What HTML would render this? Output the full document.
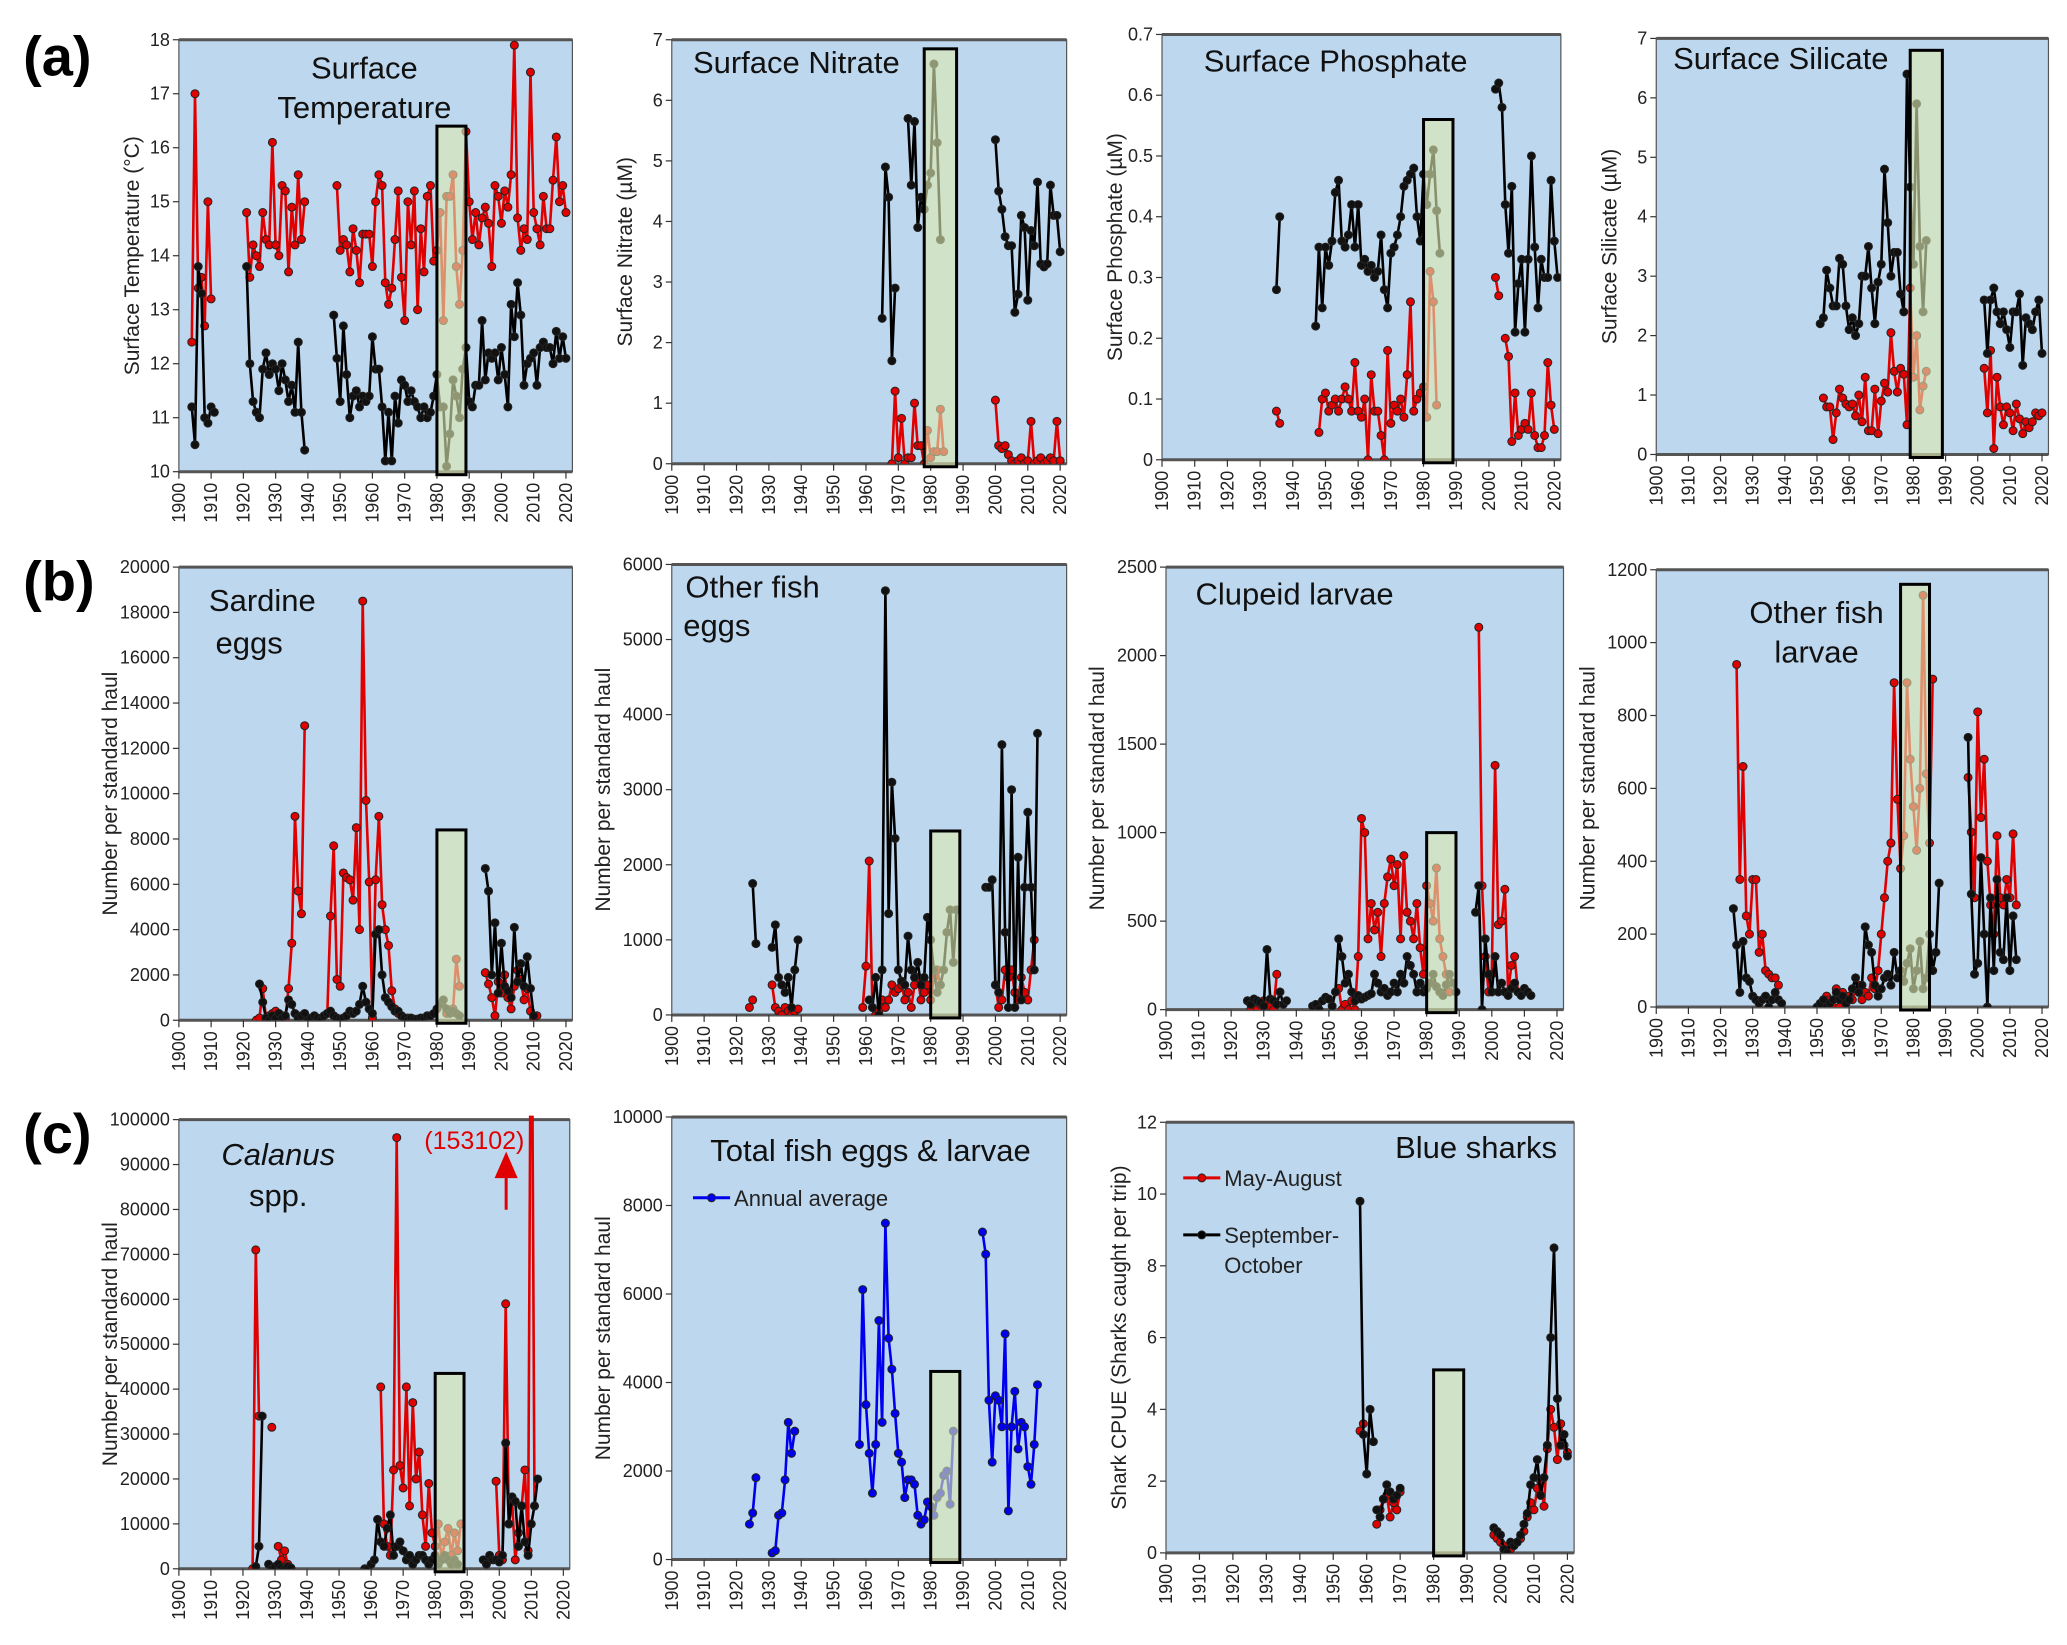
<!DOCTYPE html>
<html><head><meta charset="utf-8"><style>
html,body{margin:0;padding:0;background:#fff}
svg{display:block}
text{font-family:"Liberation Sans",sans-serif}
</style></head><body>
<svg id="fig" width="2067" height="1645" viewBox="0 0 2067 1645" xmlns="http://www.w3.org/2000/svg"></svg>
<script>
// ===== data: each series is a list of segments [startYear, values] =====
const tempRed=[[1904,[12.4,17,13.4,13.6,12.7,15,13.2]],[1921,[14.8,13.6,14.2,14,13.8,14.8,14.3,14.2,16.1,14.2,14,15.3,15.2,13.7,14.9,14.2,15.5,14.3,15]],[1949,[15.3,14.1,14.3,14.2,13.7,14.5,14.1,13.5,14.4,14.4,14.4,13.8,15,15.5,15.3,13.5,13.1,13.4,14.3,15.2,13.6,12.8,15,14.2,15.2,13,14.5,13.7,15.1,15.3,13.9,14.1,14.8,12.8,15.1,15.1,15.5,13.8,13.1,14.1,16.3,15,14.3,14.8,14.2,14.7,14.9,14.6,13.8,15.3,15.1,14.6,15.2,14.9,15.5,17.9,14.7,14.1,14.5,14.3,17.4,14.8,14.5,14.2,15.1,14.5,14.5,15.4,16.2,15,15.3,14.8]]];
const tempBlack=[[1904,[11.2,10.5,13.8,13.3,11,10.9,11.2,11.1]],[1921,[13.8,12,11.3,11.1,11,11.9,12.2,11.8,12,11.9,11.5,12,11.7,11.3,11.6,11.1,12.4,11.1,10.4]],[1948,[12.9,12.1,11.3,12.7,11.8,11,11.4,11.5,11.2,11.4,11.3,11.4,12.5,11.9,11.9,11.2,10.2,11.1,10.2,11.4,10.9,11.7,11.6,11.3,11.5,11.3,11.2,11,11.2,11,11.1,11.4,11.8,11.2,11.2,10.1,10.7,11.7,11.4,11,11.9,12.3,11.3,11.2,11.6,11.6,12.8,11.7,12.2,12.1,12.2,11.7,12.3,11.8,11.2,13.1,12.5,13.5,12.9,11.6,12,12.1,12.2,11.6,12.3,12.4,12.3,12.3,12,12.6,12.1,12.5,12.1]]];
const nitBlack=[[1965,[2.4,4.9,4.4,1.7,2.9]],[1973,[5.7,4.6,5.65,3.9,4.4,4.2,4.6,4.8,6.6,5.3,3.7]],[2000,[5.35,4.5,4.2,3.75,3.6,3.6,2.5,2.8,4.1,3.9,2.7,3.85,3.6,4.65,3.3,3.25,3.3,4.6,4.1,4.1,3.5]]];
const nitRed=[[1968,[0,1.2,0.1,0.75,0,0.1,0.1,1.0,0.3,0.3,0,0.55,0.1,0.2,0.2,0.9,0.2]],[2000,[1.05,0.3,0.25,0.3,0.15,0.05,0,0.05,0.1,0,0.05,0.7,0,0.05,0.1,0,0.05,0.1,0.05,0.7,0.05]]];
const phoBlack=[[1935,[0.28,0.4]],[1947,[0.22,0.35,0.25,0.35,0.32,0.36,0.44,0.46,0.36,0.35,0.37,0.42,0.35,0.42,0.32,0.33,0.31,0.32,0.30,0.31,0.37,0.28,0.25,0.34,0.35,0.37,0.40,0.45,0.46,0.47,0.48,0.40,0.36,0.47,0.42,0.47,0.51,0.41,0.34]],[2002,[0.61,0.62,0.58,0.42,0.34,0.45,0.21,0.29,0.33,0.21,0.33,0.5,0.35,0.25,0.33,0.3,0.3,0.46,0.36,0.3]]];
const phoRed=[[1935,[0.08,0.06]],[1948,[0.045,0.1,0.11,0.08,0.09,0.1,0.08,0.1,0.12,0.1,0.08,0.16,0.08,0.07,0.1,0,0.14,0.08,0.08,0.04,0,0.18,0.06,0.09,0.08,0.1,0.07,0.14,0.26,0.08,0.1,0.11,0.12,0.07,0.31,0.26,0.09]],[2002,[0.3,0.27]],[2005,[0.2,0.17,0.03,0.11,0.04,0.05,0.06,0.05,0.11,0.04,0.02,0.02,0.04,0.16,0.09,0.05]]];
const silBlack=[[1951,[2.2,2.3,3.1,2.8,2.5,2.5,3.3,3.2,2.5,2.1,2.3,2.0,2.2,3.0,3.0,3.5,2.8,2.2,2.9,3.2,4.8,3.9,3.0,3.4,3.4,2.7,2.4,6.4,4.5,3.2,5.9,3.5,2.4,3.6]],[2002,[2.6,1.7,2.6,2.8,2.4,2.2,2.4,2.1,1.8,2.4,2.4,2.7,1.5,2.3,2.2,2.1,2.4,2.6,1.7]]];
const silRed=[[1952,[0.95,0.8,0.8,0.25,0.7,1.1,0.95,0.85,0.8,0.85,0.65,1.0,0.55,1.3,0.4,0.4,1.1,0.35,0.9,1.2,1.05,2.05,1.4,1.05,1.45,1.35,0.5,2.8,1.3,2.0,0.75,1.15,1.4]],[2002,[1.45,0.7,1.75,0.1,1.3,0.8,0.5,0.8,0.7,0.4,0.85,0.6,0.35,0.55,0.45,0.55,0.7,0.65,0.7]]];
const sarRed=[[1924,[0,100,1400,100,200,300,400,300,200,100,1400,3400,9000,5700,4700,13000]],[1946,[300,4600,7700,1800,1500,6500,6300,6200,5300,8500,4000,18500,9700,6100,100,6200,9000,5100,4000,3300,1300,500,300,200,100,100]],[1983,[300,400,500,2700,1500]],[1995,[2100,1600,1000,200,1700,1200,2000,1000,500,1500,2200,1800,900,1400,400,100,200]]];
const sarBlack=[[1925,[1600,800,100,0,200,100,300,100,200,900,700,300,100,200,300,0,100,200,100,0,200,300,400,200,100,50,100,200,400,300,400,700,1500,800,500,300,3800,4000,2000,1000,800,600,400,400,200,100,0,100,50,50,100,100,200,200,300,500,700,900,500,300,400,300,200]],[1995,[6700,5700,2000,4300,1200,3400,1500,1300,1000,4100,1700,2500,1500,2800,1400,200]]];
const ofeBlack=[[1925,[1750,950]],[1931,[900,1200,500,400,300,500,100,600,1000]],[1961,[200,100,500,0,600,5650,1350,3100,2350,600,450,400,1050,600,500,700,400,500,1300,1000,600,300,400,600,1100,1400,700,1400]],[1997,[1700,1700,1800,400,300,3600,1100,100,3000,100,2100,200,1700,2700,1700,600,3750]]];
const ofeRed=[[1924,[100,200]],[1931,[400,100,50,0,100,50,0,50,80]],[1959,[100,650,2050,100,0,50,200,100,200,400,300,350,400,200,300,100,400,500,200,300,400,200,500,600,400]],[2000,[400,100,200,600,500,600,300,200,500,300,200,600,1000]]];
const cluBlack=[[1925,[50,30,60,50,40,20,340,60,50,30,100,30,50]],[1945,[20,30,0,50,70,60,20,100,400,300,150,200,100,50,80,60,70,80,90,200,150,100,120,80,100,150,100,200,150,300,250,200,100,150,100,120,150,200,130,100,80,140,200,150,100]],[1995,[550,700,0,400,200,100,300,100,150,100,80,120,150,100,80,120,100,80]]];
const cluRed=[[1925,[50,0,30,0,30,50,40,20,0,200]],[1953,[120,0,30,0,50,0,300,1080,1000,400,600,450,550,300,600,750,850,700,820,400,870,550,500,400,600,350,200,700,600,500,800,400,300,200,100]],[1996,[2160,700,300,100,200,1380,480,500,680,100,250,300,100]]];
const oflRed=[[1925,[940,350,660,250,200,350,350,150,200,100,90,80,80,60]],[1953,[30,20,0,50,0,40,10,30,20,50,60,20,40,30,80,50,100,200,300,400,450,890,570,380,470,890,680,550,430,600,1130,640,450,900]],[1997,[630,480,300,810,520,680,400,280,200,470,300,280,350,300,475,280]]];
const oflBlack=[[1924,[270,170,40,180,80,70,30,20,10,20,30,0,20,40,20,10]],[1950,[0,10,20,0,10,20,40,20,30,10,20,50,80,40,60,220,170,150,60,30,50,80,90,60,150,80,100,70,120,160,50,100,180,50,80,200,100,150,340]],[1997,[740,310,90,120,410,200,0,300,100,350,150,130,300,100,250,130]]];
const calRed=[[1923,[0,71000,34000]],[1929,[31500]],[1931,[5000,2000,4000,1000,0]],[1963,[40500,10000,5000,3000,22000,96000,23000,18000,40500,14000,37000,20000,26000,12000,5000,19000,8000,5000,10000,2000,6000,9000,3000,8000,4000,10000]],[1999,[19500,3000,2000,59000,10000,15000,2000,8000,14000,22000,4000,153102,14000]]];
const calBlack=[[1924,[500,5000,34000]],[1928,[1000,0,500,1000,200,0,500,200]],[1958,[0,0,1000,2000,11000,6000,5000,9000,12000,3000,5000,6000,4000,2000,3000,1000,2000,3000,3000,2000,1000,2000,3000,1000,2000,3000,2000,1000,2000,1000]],[1995,[2000,1000,3000,2000,2000,1500,3000,28000,10000,16000,15000,5000,14000,6000,3000,10000,14000,20000]]];
const totBlue=[[1924,[800,1050,1850]],[1931,[150,200,1000,1050,1800,3100,2400,2900]],[1958,[2600,6100,3500,2400,1500,2600,5400,3100,7600,5000,4300,3300,2400,2200,1400,1800,1800,1700,1000,800,900,1300,1200,1000,1400,1500,1900,2000,1250,2900]],[1996,[7400,6900,3600,2200,3700,3600,3000,5100,1100,3000,3800,2500,3100,3000,2100,1700,2600,3950]]];
const shkBlack=[[1958,[9.8,3.3,2.2,4.0,3.1]],[1963,[1.2,1.0,1.5,1.9,1.7,1.5,1.6,1.8]],[1998,[0.7,0.6,0.5,0.1,0,0.3,0.2,0.3,0.5,0.8,1.1,1.9,2.1,2.6,1.6,2.1,3,6,8.5,4.3,3.0,3.3,2.7]]];
const shkRed=[[1958,[3.4,3.6]],[1963,[0.8,1.2,1.5,1.6,1.0,1.4,1.2,1.7]],[1998,[0.5,0.4,0.3,0.2,0,0.1,0.2,0.3,0.4,0.6,1.0,1.4,1.2,1.8,2.0,1.3,2.9,4.0,3.5,2.6,3.6,3.0,2.8]]];
const xTickYears=[1900,1910,1920,1930,1940,1950,1960,1970,1980,1990,2000,2010,2020];

// ===== layout =====
const S=1.325;
const svg=document.getElementById('fig');
const NS='http://www.w3.org/2000/svg';
function mk(tag,attrs,parent){const e=document.createElementNS(NS,tag);for(const k in attrs)e.setAttribute(k,attrs[k]);(parent||svg).appendChild(e);return e;}

const panels=[
 {id:'temperature',box:[135,30,432,356],ymin:10,ymax:18,yticks:[10,11,12,13,14,15,16,17,18],ytitle:'Surface Temperature (\u00B0C)',title:['Surface','Temperature'],tx:[275,275],ty:[50,80],series:[[tempRed,'#e00000'],[tempBlack,'#000']],green:[1980,1989,16.4]},
 {id:'nitrate',box:[507,30,805,350],ymin:0,ymax:7,yticks:[0,1,2,3,4,5,6,7],ytitle:'Surface Nitrate (\u00B5M)',title:['Surface Nitrate'],tx:[601],ty:[46],series:[[nitRed,'#e00000'],[nitBlack,'#000']],green:[1978,1988,6.85]},
 {id:'phosphate',box:[877,26,1178,347],ymin:0,ymax:0.7,yticks:[0,0.1,0.2,0.3,0.4,0.5,0.6,0.7],ytitle:'Surface Phosphate  (\u00B5M)',title:['Surface Phosphate'],tx:[1008],ty:[45],series:[[phoRed,'#e00000'],[phoBlack,'#000']],green:[1980,1989,0.56]},
 {id:'silicate',box:[1250,29,1546,343],ymin:0,ymax:7,yticks:[0,1,2,3,4,5,6,7],ytitle:'Surface Silicate (\u00B5M)',title:['Surface Silicate'],tx:[1344],ty:[43],series:[[silRed,'#e00000'],[silBlack,'#000']],green:[1979,1989,6.8]},
 {id:'sardine-eggs',box:[135,428,432,770],ymin:0,ymax:20000,yticks:[0,2000,4000,6000,8000,10000,12000,14000,16000,18000,20000],ytitle:'Number per standard haul',title:['Sardine','eggs'],tx:[198,188],ty:[452,484],series:[[sarRed,'#e00000'],[sarBlack,'#000']],green:[1980,1989,8400]},
 {id:'other-fish-eggs',box:[507,426,805,766],ymin:0,ymax:6000,yticks:[0,1000,2000,3000,4000,5000,6000],ytitle:'Number per standard haul',title:['Other fish','eggs'],tx:[568,541],ty:[442,471],series:[[ofeRed,'#e00000'],[ofeBlack,'#000']],green:[1980,1989,2450]},
 {id:'clupeid-larvae',box:[880,428,1180,762],ymin:0,ymax:2500,yticks:[0,500,1000,1500,2000,2500],ytitle:'Number per standard haul',title:['Clupeid larvae'],tx:[977],ty:[447],series:[[cluRed,'#e00000'],[cluBlack,'#000']],green:[1980,1989,1000]},
 {id:'other-fish-larvae',box:[1250,430,1546,760],ymin:0,ymax:1200,yticks:[0,200,400,600,800,1000,1200],ytitle:'Number per standard haul',title:['Other fish','larvae'],tx:[1371,1371],ty:[461,491],series:[[oflRed,'#e00000'],[oflBlack,'#000']],green:[1976,1985,1160]},
 {id:'calanus',box:[135,845,430,1184],ymin:0,ymax:100000,yticks:[0,10000,20000,30000,40000,50000,60000,70000,80000,90000,100000],ytitle:'Number per standard haul',title:['Calanus','spp.'],italic:true,tx:[210,210],ty:[870,901],series:[[calRed,'#e00000'],[calBlack,'#000']],green:[1980,1989,43500]},
 {id:'total-eggs-larvae',box:[507,843,805,1177],ymin:0,ymax:10000,yticks:[0,2000,4000,6000,8000,10000],ytitle:'Number per standard haul',title:['Total fish eggs & larvae'],tx:[657],ty:[867],series:[[totBlue,'#0000ee']],green:[1980,1989,4250]},
 {id:'blue-sharks',box:[880,847,1188,1172],ymin:0,ymax:12,yticks:[0,2,4,6,8,10,12],ytitle:'Shark CPUE (Sharks caught per trip)',title:['Blue sharks'],tx:[1114],ty:[865],series:[[shkRed,'#e00000'],[shkBlack,'#000']],green:[1980,1989,5.1]}
];

const defs=mk('defs',{});
panels.forEach((p,pi)=>{
  const L=p.box[0]*S,T=p.box[1]*S,R=p.box[2]*S,B=p.box[3]*S;
  const g=mk('g',{});
  
  
  const xs=y=>L+(y-1900)/(2022-1900)*(R-L);
  const ys=v=>B-(v-p.ymin)/(p.ymax-p.ymin)*(B-T);
  const cp=mk('clipPath',{id:'cp'+pi},defs);mk('rect',{x:L,y:T-4,width:R-L,height:B-T+4},cp);
  const bg=mk('rect',{x:L,y:T,width:R-L,height:B-T,fill:'#bdd7ee',stroke:'#555','stroke-width':1.2},g);
  
  
  mk('line',{x1:L,y1:T,x2:R,y2:T,stroke:'#555','stroke-width':3},g);
  mk('line',{x1:L,y1:B,x2:R,y2:B,stroke:'#555','stroke-width':3},g);
  p.yticks.forEach(v=>{
    const y=ys(v);
    mk('line',{x1:L-6,y1:y,x2:L,y2:y,stroke:'#333','stroke-width':1.2},g);
    const t=mk('text',{x:L-9,y:y+6,'text-anchor':'end','font-size':18,fill:'#222'},g);
    t.textContent=v;
    
    
  });
  xTickYears.forEach(yr=>{
    const x=xs(yr);
    mk('line',{x1:x,y1:B,x2:x,y2:B+7,stroke:'#333','stroke-width':1.2},g);
    const t=mk('text',{x:0,y:0,'text-anchor':'end','font-size':18,fill:'#222',transform:`translate(${x+6},${B+11}) rotate(-90)`},g);
    t.textContent=yr;
    
    
  });
  const yt=mk('text',{x:0,y:0,'text-anchor':'middle','font-size':21,fill:'#222',transform:`translate(${L-(p.ymax>=1000?62:40)},${(T+B)/2}) rotate(-90)`},g);
  yt.textContent=p.ytitle;
  
  
  const sg=mk('g',{'clip-path':`url(#cp${pi})`},g);
  p.series.forEach(([segs,col])=>{
    segs.forEach(([start,vals])=>{
      let d='';
      vals.forEach((v,i)=>{const x=xs(start+i),y=ys(v);d+=(i?'L':'M')+x.toFixed(1)+' '+y.toFixed(1);});
      const path=mk('path',{d:d,fill:'none',stroke:col,'stroke-width':2.6},sg);
      
      
      vals.forEach((v,i)=>{
        const c=mk('circle',{cx:xs(start+i),cy:ys(v),r:4,fill:col==='#000'?'#111':col,stroke:'#222','stroke-width':1},sg);
        
        
      });
    });
  });
  const [g0,g1,gt]=p.green;
  const gr=mk('rect',{x:xs(g0),y:ys(gt),width:xs(g1)-xs(g0),height:B-ys(gt)+3,fill:'#dbe8b0','fill-opacity':0.62,stroke:'#000','stroke-width':3},g);
  
  
  p.title.forEach((s,i)=>{
    const t=mk('text',{x:p.tx[i]*S,y:p.ty[i]*S+12,'text-anchor':'middle','font-size':31,fill:'#111','font-style':(p.italic&&i===0)?'italic':'normal'},g);
    t.textContent=s;
    
    
  });
});

[['(a)',25,42],['(b)',25,438],['(c)',25,855]].forEach(([s,x,y])=>{
  const t=mk('text',{x:x*S-10,y:y*S+20,'font-size':56,'font-weight':'bold',fill:'#000'});
  t.textContent=s;
  
  
});

const an=mk('text',{x:358*S,y:867*S,'text-anchor':'middle','font-size':25,fill:'#e00000'});
an.textContent='(153102)';


const arr=mk('path',{d:`M${382*S} ${913*S} L${382*S} ${885*S} M${375*S} ${888*S} L${382*S} ${872*S} L${389*S} ${888*S} Z`,stroke:'#e00000','stroke-width':3,fill:'#e00000'});



function legend(x,y,col,lines,name){
  const g=mk('g',{});
  
  
  mk('line',{x1:x*S,y1:y*S,x2:(x+28)*S,y2:y*S,stroke:col,'stroke-width':3},g);
  mk('circle',{cx:(x+14)*S,cy:y*S,r:4,fill:col,stroke:'#222'},g);
  lines.forEach((s,i)=>{const t=mk('text',{x:(x+31)*S,y:y*S+8+i*30,'font-size':22,fill:'#222'},g);t.textContent=s;});
}
legend(523,904,'#0000ee',['Annual average'],'legend-annual-average');
legend(893,889,'#e00000',['May-August'],'legend-may-august');
legend(893,932,'#000',['September-','October'],'legend-september-october');
</script>
</body></html>
